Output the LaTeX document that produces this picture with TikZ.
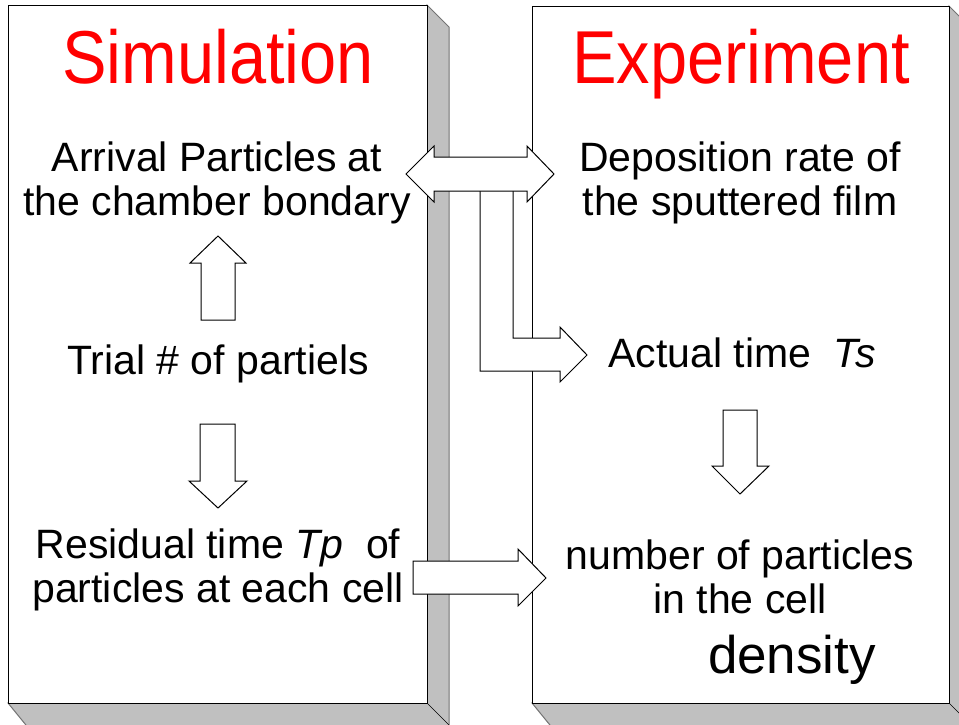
\documentclass[tikz,border=0pt]{standalone}
\usepackage{fontspec}
\usepackage{graphicx}
\setmainfont{Liberation Sans}
\definecolor{shadowgray}{RGB}{192,192,192}
\tikzset{
  txt/.style={font=\fontsize{41}{44}\selectfont, align=center, inner sep=0, anchor=base},
  ttl/.style={font=\fontsize{75}{80}\selectfont, text=red, inner sep=0, anchor=base},
  blk/.style={fill=white, draw=black, line width=1pt, line join=miter},
  side/.style={fill=shadowgray, draw=black!55, line width=1pt}
}
\begin{document}
\begin{tikzpicture}[x=1pt,y=-1pt]
\useasboundingbox (0,0) rectangle (959,724);
\clip (0,0) rectangle (959,724);
% left box
\draw[side](427,5)--(449,27)--(449,730)--(30,730)--(8,703)--(427,703)--cycle;
\draw(427,703)--(449,725);
\draw[fill=white](8,5) rectangle (427,703);
% right box
\draw[side](949,6)--(971,28)--(971,730)--(554,730)--(532,703)--(949,703)--cycle;
\draw(949,703)--(971,725);
\draw[fill=white](532,6) rectangle (949,703);
% texts (base = last line)
\node[ttl] (sim) at (218,83) {\scalebox{.89}[1]{Simulation}};
\node[ttl] (exp) at (741,83) {\scalebox{.89}[1]{Experiment}};
\node[txt] (arrival) at (217,215) {Arrival Particles at\\the chamber bondary};
\node[txt] (trial) at (218,374) {Trial \# of partiels};
\node[txt] (resid) at (218,602) {Residual time \textit{Tp}\ \ of\\particles at each cell};
\node[txt] (depo) at (740,215) {Deposition rate of\\the sputtered film};
\node[txt] (actual) at (742,367) {Actual time \ \textit{Ts}};
\node[txt] (number) at (740,613) {number of particles\\in the cell};
\node[txt, font=\fontsize{53}{56}\selectfont] (dens) at (792,673) {density};
% block arrows
\draw[blk](201,320)--(201,263)--(190,263)--(218,236)--(246,263)--(235,263)--(235,320)--cycle;
\draw[blk](200,424)--(235,424)--(235,481)--(247,481)--(218,508)--(189,481)--(200,481)--cycle;
\draw[blk](723,410)--(757,410)--(757,466)--(769,466)--(740,494)--(712,466)--(723,466)--cycle;
\draw[blk](413,561)--(518,561)--(518,549)--(546,578)--(518,606)--(518,594)--(413,594)--cycle;
\draw[blk](480,191)--(480,371)--(560,371)--(560,382)--(587,355)--(560,327)--(560,338)--(513,338)--(513,191);
\draw[blk](406,174)--(434,146)--(434,157)--(527,157)--(527,146)--(554,174)--(527,202)--(527,191)--(434,191)--(434,202)--cycle;
\end{tikzpicture}
\end{document}
